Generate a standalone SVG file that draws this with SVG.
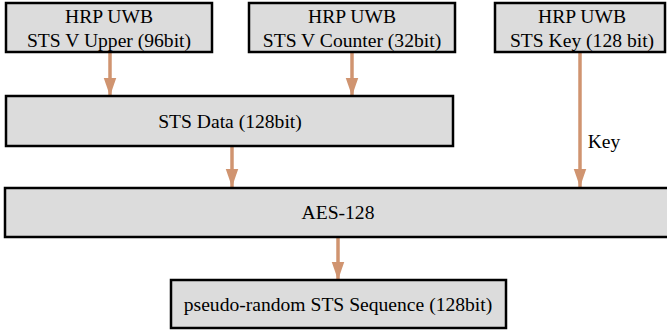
<svg xmlns="http://www.w3.org/2000/svg" width="667" height="331" viewBox="0 0 667 331">
<style>
.box{fill:#dcdcdc;stroke:#000;stroke-width:2.5}
.t{font-family:'Liberation Serif','DejaVu Serif',serif;font-size:19.6px;fill:#000;text-anchor:middle}
.e{stroke:#d09470;stroke-width:3.5;fill:none}
</style>
<defs>
<marker id="ah" markerUnits="userSpaceOnUse" markerWidth="18" markerHeight="26" refX="26" refY="9" orient="auto" viewBox="0 0 26 18">
<path d="M0,0 L26,9 L0,18 Z" fill="#d09470"/>
</marker>
</defs>
<rect width="667" height="331" fill="#fff"/>
<g id="edges">
<line class="e" x1="110" y1="53" x2="110" y2="96" marker-end="url(#ah)"/>
<line class="e" x1="352" y1="53" x2="352" y2="96" marker-end="url(#ah)"/>
<line class="e" x1="232" y1="146" x2="232" y2="187" marker-end="url(#ah)"/>
<line class="e" x1="580" y1="53" x2="580" y2="187" marker-end="url(#ah)"/>
<line class="e" x1="338" y1="237" x2="338" y2="280" marker-end="url(#ah)"/>
<text class="t" x="604" y="148">Key</text>
</g>
<g id="upper">
<rect class="box" x="6" y="3" width="206" height="49"/>
<text class="t" x="109" y="23">HRP UWB</text>
<text class="t" x="109" y="47">STS V Upper (96bit)</text>
</g>
<g id="counter">
<rect class="box" x="249" y="3" width="206" height="49"/>
<text class="t" x="352" y="23">HRP UWB</text>
<text class="t" x="352" y="47">STS V Counter (32bit)</text>
</g>
<g id="key">
<rect class="box" x="495" y="3" width="170" height="49"/>
<text class="t" x="582" y="23">HRP UWB</text>
<text class="t" x="582" y="47">STS Key (128 bit)</text>
</g>
<g id="data">
<rect class="box" x="6" y="96" width="447" height="50"/>
<text class="t" x="230" y="128">STS Data (128bit)</text>
</g>
<g id="aes">
<rect class="box" x="5" y="188" width="670" height="49"/>
<text class="t" x="338" y="219">AES-128</text>
</g>
<g id="output">
<rect class="box" x="171" y="280" width="335" height="48"/>
<text class="t" x="338" y="311">pseudo-random STS Sequence (128bit)</text>
</g>
</svg>
